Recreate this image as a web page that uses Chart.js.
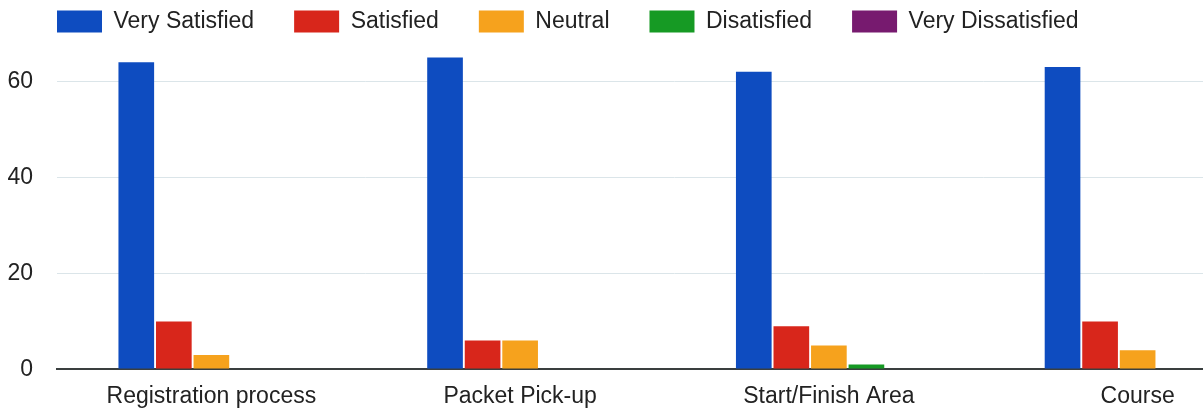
<!DOCTYPE html>
<html>
<head>
<meta charset="utf-8">
<title>Satisfaction by area</title>
<script src="https://cdn.jsdelivr.net/npm/chart.js@4/dist/chart.umd.min.js"></script>
<style>
  html, body { margin: 0; padding: 0; background: #ffffff; overflow: hidden; }
  body { width: 1203px; height: 409px; position: relative; }
  /* chart is wider than the window: the right edge is cropped like the source */
  #satisfactionChart { position: absolute; left: 0; top: -30px; }
</style>
</head>
<body>
<canvas id="satisfactionChart" width="1292" height="447"></canvas>
<script>
/* ===============================
   Data
   =============================== */
const categories = ["Registration process", "Packet Pick-up", "Start/Finish Area", "Course"];

const seriesNames = ["Very Satisfied", "Satisfied", "Neutral", "Disatisfied", "Very Dissatisfied"];

const verySatisfied = [64, 65, 62, 63];
const satisfied = [10, 6, 9, 10];
const neutral = [3, 6, 5, 4];
const dissatisfied = [0, 0, 1, 0];
const veryDissatisfied = [0, 0, 0, 0];

const yTicks = [0, 20, 40, 60];

document.addEventListener("DOMContentLoaded", () => {
  if (typeof Chart === "undefined") {
    console.error("Chart.js not loaded");
    return;
  }

  const colors = ["#0e4cc0", "#d8261b", "#f6a21d", "#169a24", "#771a6f"];
  const values = [verySatisfied, satisfied, neutral, dissatisfied, veryDissatisfied];

  Chart.defaults.font.family = "'Liberation Sans', Arial, sans-serif";
  Chart.defaults.font.size = 23;
  Chart.defaults.color = "#222222";

  // nudge legend so its first box lines up with the plot edge
  const legendNudge = {
    id: "legendNudge",
    afterLayout(chart) {
      if (!chart.legend) return;
      const shift = 57 - (chart.legend.left + 40);
      chart.legend.left += shift;
      chart.legend.right += shift;
    }
  };

  new Chart(document.getElementById("satisfactionChart").getContext("2d"), {
    type: "bar",
    data: {
      labels: categories,
      datasets: seriesNames.map((name, i) => ({
        label: name,
        data: values[i],
        backgroundColor: colors[i],
        borderWidth: 0,
        categoryPercentage: 0.608,
        barPercentage: 0.95
      }))
    },
    options: {
      responsive: false,
      animation: false,
      layout: { padding: { left: 7, right: 0, top: 0, bottom: 2 } },
      plugins: {
        legend: {
          position: "top",
          align: "start",
          labels: {
            boxWidth: 45,
            boxHeight: 22,
            padding: 40,
            color: "#222222"
          }
        },
        tooltip: { enabled: false }
      },
      scales: {
        x: {
          grid: { display: false },
          border: { display: true, color: "#3a3f3f", width: 2 },
          ticks: { padding: 5, color: "#222222" },
          // labels may overhang the plot edge; do not shrink the plot for them
          afterFit: scale => {
            scale.paddingLeft = 0;
            scale.paddingRight = 0;
          }
        },
        y: {
          min: 0,
          max: 68,
          afterBuildTicks: scale => {
            scale.ticks = yTicks.map(v => ({ value: v }));
          },
          afterFit: scale => {
            scale.width = 50;
          },
          border: { display: false },
          grid: {
            drawTicks: false,
            color: ctx => (ctx.tick && ctx.tick.value === 0 ? "#3a3f3f" : "#dbe5e9"),
            lineWidth: ctx => (ctx.tick && ctx.tick.value === 0 ? 2 : 1)
          },
          ticks: { padding: 24, color: "#222222" }
        }
      }
    },
    plugins: [legendNudge]
  });
});
</script>
</body>
</html>
